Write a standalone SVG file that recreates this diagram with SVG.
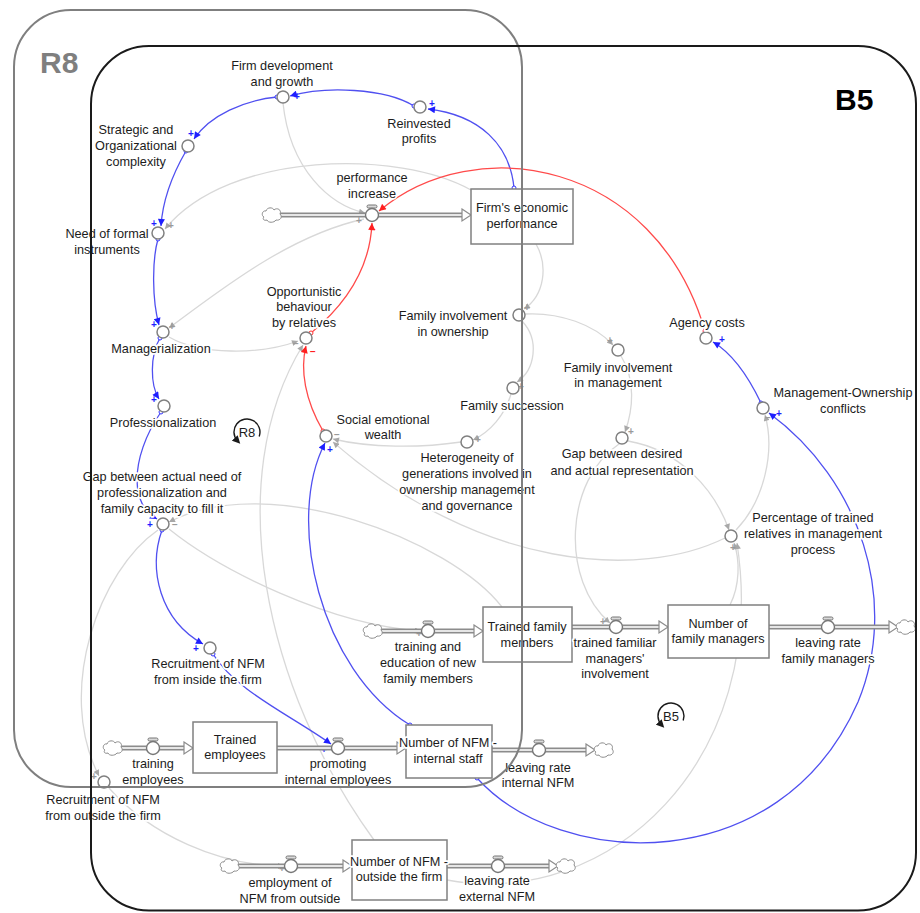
<svg xmlns="http://www.w3.org/2000/svg" width="920" height="913" viewBox="0 0 920 913">
<defs>
<style>
text{font-family:"Liberation Sans",Arial,sans-serif;font-size:12.7px;fill:#1c1c1c;text-anchor:middle}
.lbl{paint-order:stroke;stroke:#fff;stroke-width:3.5px;stroke-linejoin:round}
.lk{fill:none;stroke-width:1.3}
.b{stroke:#5050f0}
.r{stroke:#ff4a4a}
.g{stroke:#d8d8d8}
.aux{fill:#fff;stroke:#808080;stroke-width:1.5}
.stock{fill:#fff;stroke:#808080;stroke-width:1.5}
.po{fill:none;stroke:#8c8c8c;stroke-width:5}
.pi{fill:none;stroke:#e6e6e6;stroke-width:2}
.ph{fill:#fff;stroke:#8c8c8c;stroke-width:1.2}
.vc{fill:#fff;stroke:#777;stroke-width:1.4}
.tap{fill:#d9d9d9;stroke:#777;stroke-width:1}
.cl{fill:#fff;stroke:#8c8c8c;stroke-width:1}
.pol text{font-size:10px;font-weight:bold}
.pb text{fill:#1f1fff}
.pr text{fill:#ff2020}
.pg text{fill:#9a9a9a}
.frame{fill:none;stroke-width:2}
.loop{fill:none;stroke:#1a1a1a;stroke-width:1.4}
</style>
<marker id="ab" viewBox="0 0 10 10" refX="10" refY="5" markerWidth="8" markerHeight="7" markerUnits="userSpaceOnUse" orient="auto"><path d="M0,0 L10,5 L0,10 z" fill="#1f1fff"/></marker>
<marker id="ar" viewBox="0 0 10 10" refX="10" refY="5" markerWidth="8" markerHeight="7" markerUnits="userSpaceOnUse" orient="auto"><path d="M0,0 L10,5 L0,10 z" fill="#ff2020"/></marker>
<marker id="ag" viewBox="0 0 10 10" refX="10" refY="5" markerWidth="7" markerHeight="6" markerUnits="userSpaceOnUse" orient="auto"><path d="M0,0 L10,5 L0,10 z" fill="#a8a8a8"/></marker>
<marker id="ak" viewBox="0 0 10 10" refX="5" refY="5" markerWidth="8" markerHeight="8" markerUnits="userSpaceOnUse" orient="auto"><path d="M0,0 L10,5 L0,10 z" fill="#1a1a1a"/></marker>
<marker id="ob" viewBox="-3 -3 6 6" refX="0" refY="0" markerWidth="6" markerHeight="6" markerUnits="userSpaceOnUse"><circle r="2" fill="#fff" stroke="#3333ff" stroke-width="1"/></marker>
<marker id="or" viewBox="-3 -3 6 6" refX="0" refY="0" markerWidth="6" markerHeight="6" markerUnits="userSpaceOnUse"><circle r="2" fill="#fff" stroke="#ff3030" stroke-width="1"/></marker>
<path id="cloud" d="M-8,2 C-11,1 -10,-5 -6,-4 C-5,-8 1,-8 2,-5 C5,-8 10,-5 8,-1 C11,2 8,6 4,5 C2,8 -4,8 -5,5 C-8,6 -10,4 -8,2 Z"/>
</defs>
<rect width="920" height="913" fill="#fff"/>

<!-- causal links -->
<g id="connectors">
  <!-- neutral links -->
  <path class="lk g" marker-end="url(#ag)" d="M283,103 C290,170 330,205 365,213"/>
  <path class="lk g" marker-end="url(#ag)" d="M471,190 C400,150 230,150 165,229"/>
  <path class="lk g" marker-end="url(#ag)" d="M364,219 C290,235 220,290 169,328"/>
  <path class="lk g" marker-end="url(#ag)" d="M169,337 C200,355 260,355 298,341"/>
  <path class="lk g" marker-end="url(#ag)" d="M374,840 C265,690 220,480 303,345"/>
  <path class="lk g" marker-end="url(#ag)" d="M461,442 C420,448 370,448 333,439"/>
  <path class="lk g" marker-end="url(#ag)" d="M511,394 C505,415 490,432 473,440"/>
  <path class="lk g" marker-end="url(#ag)" d="M522,321 C540,340 535,370 517,382"/>
  <path class="lk g" marker-end="url(#ag)" d="M536,244 C548,265 545,295 524,309"/>
  <path class="lk g" marker-end="url(#ag)" d="M525,314 C560,312 595,325 613,345"/>
  <path class="lk g" marker-end="url(#ag)" d="M621,356 C636,380 633,410 625,432"/>
  <path class="lk g" marker-end="url(#ag)" d="M628,441 C680,450 715,490 729,530"/>
  <path class="lk g" marker-end="url(#ag)" d="M619,444 C565,480 560,580 610,623"/>
  <path class="lk g" marker-end="url(#ag)" d="M736,530 C765,500 775,450 765,415"/>
  <path class="lk g" marker-end="url(#ag)" d="M730,605 C740,585 740,560 734,543"/>
  <path class="lk g" marker-end="url(#ag)" d="M447,880 C610,910 770,760 737,543"/>
  <path class="lk g" marker-end="url(#ag)" d="M725,538 C640,580 480,570 333,442"/>
  <path class="lk g" marker-end="url(#ag)" d="M502,607 C450,540 270,470 169,522"/>
  <path class="lk g" marker-end="url(#ag)" d="M169,529 C220,570 330,625 421,631"/>
  <path class="lk g" marker-end="url(#ag)" d="M158,530 C100,570 55,690 99,776"/>
  <path class="lk g" marker-end="url(#ag)" d="M109,788 C150,835 220,866 284,866"/>
  <!-- positive links -->
  <path class="lk b" marker-start="url(#ob)" marker-end="url(#ab)" d="M414,106 C385,88 325,86 290,96"/>
  <path class="lk b" marker-start="url(#ob)" marker-end="url(#ab)" d="M514,188 C510,145 480,115 428,109"/>
  <path class="lk b" marker-start="url(#ob)" marker-end="url(#ab)" d="M277,97 C245,100 210,115 194,139"/>
  <path class="lk b" marker-start="url(#ob)" marker-end="url(#ab)" d="M186,151 C175,170 163,195 161,226"/>
  <path class="lk b" marker-start="url(#ob)" marker-end="url(#ab)" d="M158,239 C152,260 152,300 159,325"/>
  <path class="lk b" marker-start="url(#ob)" marker-end="url(#ab)" d="M160,338 C150,355 150,385 159,399"/>
  <path class="lk b" marker-start="url(#ob)" marker-end="url(#ab)" d="M161,412 C145,435 137,460 137,480 C137,500 145,512 157,519"/>
  <path class="lk b" marker-start="url(#ob)" marker-end="url(#ab)" d="M162,530 C148,570 160,620 203,644"/>
  <path class="lk b" marker-start="url(#ob)" marker-end="url(#ab)" d="M213,654 C235,690 290,715 331,744"/>
  <path class="lk b" marker-start="url(#ob)" marker-end="url(#ab)" d="M410,725 C320,670 285,520 325,443"/>
  <path class="lk b" marker-start="url(#ob)" marker-end="url(#ab)" d="M477,778 C560,870 780,880 858,702 C900,600 860,480 769,413"/>
  <path class="lk b" marker-start="url(#ob)" marker-end="url(#ab)" d="M761,403 C750,380 735,355 713,342"/>
  <!-- negative links -->
  <path class="lk r" marker-start="url(#or)" marker-end="url(#ar)" d="M705,331 C655,160 475,130 379,211"/>
  <path class="lk r" marker-start="url(#or)" marker-end="url(#ar)" d="M311,333 C345,305 370,270 372,223"/>
  <path class="lk r" marker-start="url(#or)" marker-end="url(#ar)" d="M323,431 C305,400 300,370 306,346"/>
  <!-- polarity signs -->
  <g class="pol pb">
    <text x="297" y="100">+</text><text x="432" y="107">+</text><text x="191" y="137">+</text>
    <text x="154" y="227">+</text><text x="154" y="328">+</text><text x="154" y="403">+</text>
    <text x="150" y="528">+</text><text x="196" y="652">+</text><text x="324" y="753">+</text>
    <text x="330" y="453">+</text><text x="722" y="343">+</text><text x="779" y="417">+</text>
  </g>
  <g class="pol pr">
    <text x="373" y="233">−</text><text x="313" y="355">−</text>
  </g>
  <g class="pol pg">
    <text x="171" y="229">+</text><text x="359" y="224">+</text><text x="296" y="347">−</text>
    <text x="337" y="438">−</text><text x="478" y="443">+</text><text x="521" y="390">+</text>
    <text x="527" y="311">+</text><text x="610" y="344">+</text><text x="631" y="435">+</text>
    <text x="733" y="551">+</text><text x="768" y="421">−</text><text x="603" y="625">+</text>
    <text x="419" y="637">+</text><text x="94" y="780">+</text><text x="282" y="872">+</text>
    <text x="175" y="528">−</text><text x="172" y="330">+</text>
  </g>
</g>

<!-- material flows -->
<g id="flows">
  <path class="po" d="M280,215 H462 M121,748 H184 M277,748 H397 M492,750 H586 M238,866 H343 M447,866 H549 M381,631 H474 M572,627 H659 M769,627 H889"/>
  <path class="pi" d="M280,215 H462 M121,748 H184 M277,748 H397 M492,750 H586 M238,866 H343 M447,866 H549 M381,631 H474 M572,627 H659 M769,627 H889"/>
  <polygon class="ph" points="462,209 471,215 462,221"/>
  <polygon class="ph" points="184,742 193,748 184,754"/>
  <polygon class="ph" points="397,742 406,748 397,754"/>
  <polygon class="ph" points="586,744 595,750 586,756"/>
  <polygon class="ph" points="343,860 352,866 343,872"/>
  <polygon class="ph" points="549,860 558,866 549,872"/>
  <polygon class="ph" points="474,625 483,631 474,637"/>
  <polygon class="ph" points="659,621 668,627 659,633"/>
  <polygon class="ph" points="889,621 898,627 889,633"/>
  <use href="#cloud" class="cl" transform="translate(272,215)"/>
  <use href="#cloud" class="cl" transform="translate(113,748)"/>
  <use href="#cloud" class="cl" transform="translate(604,750)"/>
  <use href="#cloud" class="cl" transform="translate(230,866)"/>
  <use href="#cloud" class="cl" transform="translate(566,866)"/>
  <use href="#cloud" class="cl" transform="translate(373,631)"/>
  <use href="#cloud" class="cl" transform="translate(906,627)"/>
</g>

<!-- stocks -->
<g id="firm-economic-performance"><rect class="stock" x="471" y="189" width="102" height="55"/><text class="lbl" x="522" y="211.5">Firm's economic</text><text class="lbl" x="522" y="227.5">performance</text></g>
<g id="trained-family-members"><rect class="stock" x="483" y="607" width="89" height="55"/><text class="lbl" x="527" y="630.5">Trained family</text><text class="lbl" x="527" y="646.5">members</text></g>
<g id="number-of-family-managers"><rect class="stock" x="668" y="605" width="101" height="53"/><text class="lbl" x="718" y="627.5">Number of</text><text class="lbl" x="718" y="643">family managers</text></g>
<g id="trained-employees"><rect class="stock" x="193" y="722" width="84" height="51"/><text class="lbl" x="235" y="743.5">Trained</text><text class="lbl" x="235" y="759">employees</text></g>
<g id="nfm-internal-staff"><rect class="stock" x="406" y="725" width="86" height="53"/><text class="lbl" x="448" y="746.5">Number of NFM -</text><text class="lbl" x="448" y="762.5">internal staff</text></g>
<g id="nfm-outside"><rect class="stock" x="352" y="840" width="95" height="60"/><text class="lbl" x="399" y="865.5">Number of NFM -</text><text class="lbl" x="399" y="880.5">outside the firm</text></g>

<!-- flow valves -->
<g id="performance-increase"><rect class="tap" x="367" y="205" width="10" height="3" rx="1.5"/><circle class="vc" cx="372" cy="215" r="6.5"/><text class="lbl" x="372" y="181.5">performance</text><text class="lbl" x="372" y="197.5">increase</text></g>
<g id="training-employees"><rect class="tap" x="148" y="738" width="10" height="3" rx="1.5"/><circle class="vc" cx="153" cy="748" r="6.5"/><text class="lbl" x="153" y="767.5">training</text><text class="lbl" x="153" y="783.5">employees</text></g>
<g id="promoting-internal-employees"><rect class="tap" x="333" y="738" width="10" height="3" rx="1.5"/><circle class="vc" cx="338" cy="748" r="6.5"/><text class="lbl" x="338" y="767.5">promoting</text><text class="lbl" x="338" y="783.5">internal employees</text></g>
<g id="leaving-rate-internal"><rect class="tap" x="534" y="740" width="10" height="3" rx="1.5"/><circle class="vc" cx="539" cy="750" r="6.5"/><text class="lbl" x="538" y="771.5">leaving rate</text><text class="lbl" x="538" y="786.5">internal NFM</text></g>
<g id="employment-outside"><rect class="tap" x="286" y="856" width="10" height="3" rx="1.5"/><circle class="vc" cx="291" cy="866" r="6.5"/><text class="lbl" x="290" y="886.5">employment of</text><text class="lbl" x="290" y="902.5">NFM from outside</text></g>
<g id="leaving-rate-external"><rect class="tap" x="493" y="856" width="10" height="3" rx="1.5"/><circle class="vc" cx="498" cy="866" r="6.5"/><text class="lbl" x="497" y="884.5">leaving rate</text><text class="lbl" x="497" y="900.5">external NFM</text></g>
<g id="training-education"><rect class="tap" x="423" y="621" width="10" height="3" rx="1.5"/><circle class="vc" cx="428" cy="631" r="6.5"/><text class="lbl" x="428" y="650.5">training and</text><text class="lbl" x="428" y="666.5">education of new</text><text class="lbl" x="428" y="682.5">family members</text></g>
<g id="trained-familiar-managers"><rect class="tap" x="611" y="617" width="10" height="3" rx="1.5"/><circle class="vc" cx="616" cy="627" r="6.5"/><text class="lbl" x="615" y="646.5">trained familiar</text><text class="lbl" x="615" y="662.5">managers'</text><text class="lbl" x="615" y="678">involvement</text></g>
<g id="leaving-rate-family"><rect class="tap" x="823" y="617" width="10" height="3" rx="1.5"/><circle class="vc" cx="828" cy="627" r="6.5"/><text class="lbl" x="828" y="646.5">leaving rate</text><text class="lbl" x="828" y="662.5">family managers</text></g>

<!-- auxiliary variables -->
<g id="firm-development"><circle class="aux" cx="283" cy="97" r="6"/><text class="lbl" x="282" y="69.5">Firm development</text><text class="lbl" x="282" y="85.5">and growth</text></g>
<g id="reinvested-profits"><circle class="aux" cx="420" cy="107" r="6"/><text class="lbl" x="419" y="127.5">Reinvested</text><text class="lbl" x="419" y="143">profits</text></g>
<g id="complexity"><circle class="aux" cx="188" cy="146" r="6"/><text class="lbl" x="136" y="134">Strategic and</text><text class="lbl" x="136" y="150">Organizational</text><text class="lbl" x="136" y="166">complexity</text></g>
<g id="formal-instruments"><circle class="aux" cx="158" cy="233" r="6"/><text class="lbl" x="107" y="237.5">Need of formal</text><text class="lbl" x="107" y="253.5">instruments</text></g>
<g id="managerialization"><circle class="aux" cx="163" cy="332" r="6"/><text class="lbl" x="161" y="352.5">Managerialization</text></g>
<g id="professionalization"><circle class="aux" cx="164" cy="406" r="6"/><text class="lbl" x="163" y="426.5">Professionalization</text></g>
<g id="gap-professionalization"><circle class="aux" cx="163" cy="524" r="6"/><text class="lbl" x="162" y="480.5">Gap between actual need of</text><text class="lbl" x="162" y="496.5">professionalization and</text><text class="lbl" x="162" y="512.5">family capacity to fill it</text></g>
<g id="recruitment-inside"><circle class="aux" cx="210" cy="648" r="6"/><text class="lbl" x="208" y="667.5">Recruitment of NFM</text><text class="lbl" x="208" y="683.5">from inside the firm</text></g>
<g id="recruitment-outside"><circle class="aux" cx="104" cy="782" r="6"/><text class="lbl" x="103" y="803.5">Recruitment of NFM</text><text class="lbl" x="103" y="819.5">from outside the firm</text></g>
<g id="opportunistic-behaviour"><circle class="aux" cx="306" cy="338" r="6"/><text class="lbl" x="304" y="295.5">Opportunistic</text><text class="lbl" x="304" y="311">behaviour</text><text class="lbl" x="304" y="326.5">by relatives</text></g>
<g id="social-emotional-wealth"><circle class="aux" cx="326" cy="436" r="6"/><text class="lbl" x="383" y="423.5">Social emotional</text><text class="lbl" x="383" y="439">wealth</text></g>
<g id="family-ownership"><circle class="aux" cx="519" cy="315" r="6"/><text class="lbl" x="453" y="319.5">Family involvement</text><text class="lbl" x="453" y="335.5">in ownership</text></g>
<g id="family-succession"><circle class="aux" cx="513" cy="388" r="6"/><text class="lbl" x="512" y="409.5">Family succession</text></g>
<g id="heterogeneity"><circle class="aux" cx="467" cy="442" r="6"/><text class="lbl" x="467" y="461.5">Heterogeneity of</text><text class="lbl" x="467" y="477.5">generations involved in</text><text class="lbl" x="467" y="493.5">ownership management</text><text class="lbl" x="467" y="509.5">and governance</text></g>
<g id="family-management"><circle class="aux" cx="618" cy="350" r="6"/><text class="lbl" x="618" y="371.5">Family involvement</text><text class="lbl" x="618" y="387">in management</text></g>
<g id="gap-representation"><circle class="aux" cx="622" cy="438" r="6"/><text class="lbl" x="622" y="458">Gap between desired</text><text class="lbl" x="622" y="474.5">and actual representation</text></g>
<g id="agency-costs"><circle class="aux" cx="706" cy="338" r="6"/><text class="lbl" x="707" y="326.5">Agency costs</text></g>
<g id="ownership-conflicts"><circle class="aux" cx="763" cy="408" r="6"/><text class="lbl" x="843" y="396.5">Management-Ownership</text><text class="lbl" x="843" y="412.5">conflicts</text></g>
<g id="trained-relatives"><circle class="aux" cx="731" cy="536" r="6"/><text class="lbl" x="813" y="522">Percentage of trained</text><text class="lbl" x="813" y="538">relatives in management</text><text class="lbl" x="813" y="554">process</text></g>

<!-- loop markers -->
<g id="loop-r8"><path class="loop" marker-end="url(#ak)" d="M259.2,436.4 A13,13 0 1 0 237.5,440.9"/><text x="247" y="437" style="font-size:13px">R8</text></g>
<g id="loop-b5"><path class="loop" marker-end="url(#ak)" d="M683.2,720.4 A13,13 0 1 0 661.5,724.9"/><text x="671" y="721" style="font-size:13px">B5</text></g>

<!-- loop boundaries -->
<g id="frames">
  <rect class="frame" x="14" y="10" width="508" height="777" rx="57" stroke="#7f7f7f"/>
  <rect class="frame" x="91" y="46" width="825" height="864.5" rx="58" stroke="#1a1a1a"/>
  <text x="40" y="73" style="font-size:30px;font-weight:bold;fill:#7f7f7f;text-anchor:start">R8</text>
  <text x="835" y="110" style="font-size:30px;font-weight:bold;fill:#000;text-anchor:start">B5</text>
</g>
</svg>
